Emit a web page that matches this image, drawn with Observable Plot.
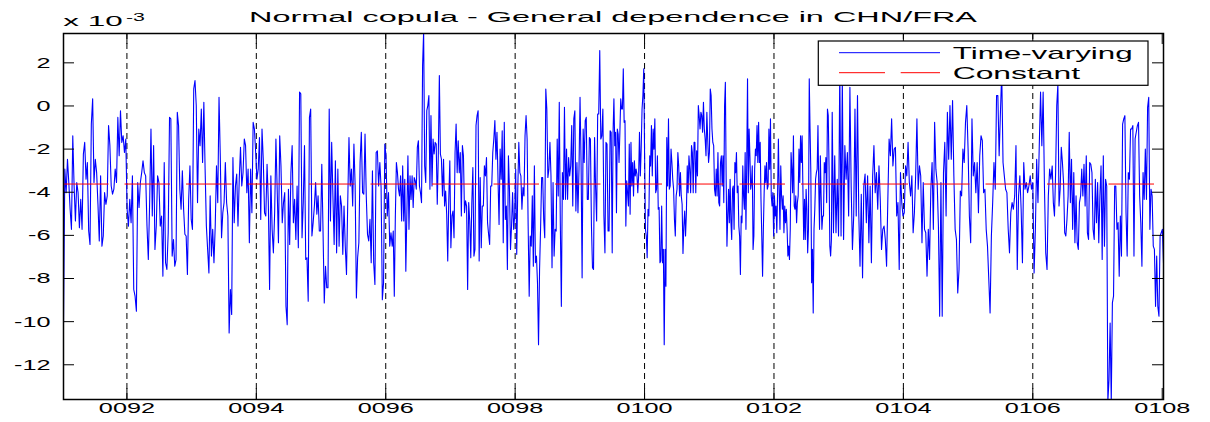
<!DOCTYPE html>
<html><head><meta charset="utf-8">
<script src="https://cdn.jsdelivr.net/npm/d3@7"></script>
<script src="https://cdn.jsdelivr.net/npm/@observablehq/plot@0.6"></script>
<style>body{margin:0;background:#fff;} svg{display:block;}</style>
</head><body><div id="chart"></div>
<script>
const title = "Normal copula - General dependence in CHN/FRA";
const seriesNames = ["Time-varying", "Constant"];
const seriesColors = ["#0000ff", "#ff0000"];
const xTicks = [92, 94, 96, 98, 100, 102, 104, 106, 108];
const xTickLabels = ["0092", "0094", "0096", "0098", "0100", "0102", "0104", "0106", "0108"];
const yTicks = [-12, -10, -8, -6, -4, -2, 0, 2];
const yTickLabels = ["-12", "-10", "-8", "-6", "-4", "-2", "0", "2"];
const yMultiplier = "x 10";
const yExponent = "-3";
const xDomain = [91.02, 108.02];
const yDomain = [-13.61, 3.36];
const constantValue = -3.62;
// time span covered by each block of readings below
const segmentBounds = [91.02, 92.72, 94.42, 96.10, 97.80, 99.50, 101.20, 102.90, 104.60, 106.30, 108.02];

const tv1 = [-10.06,-2.93,-4.02,-2.47,-3.55,-4.79,-5.72,-1.38,-3.71,-5.33,-3.55,-4.02,-5.64,-4.33,-5.72,-2.23,-1.69,-3.40,-2.62,-5.80,-6.42,-0.84,0.33,-3.55,-2.47,-3.09,-4.56,-6.26,-3.24,-6.50,-6.03,-4.02,-4.56,-4.17,-0.91,-1.84,-3.71,-4.09,-3.86,-2.93,-3.55,-0.53,-2.31,-0.22,-1.69,-1.38,-2.16,-1.53,-4.79,-5.57,-4.33,-5.41,-3.24,-8.51,-8.82,-9.52,-3.55,-4.71,-3.55,-3.09,-2.54,-3.09,-3.24,-5.57,-7.12,-4.48,-1.07,-5.10,-1.84,-6.65,-5.57,-3.24,-3.55,-5.57,-5.10,-7.89,-2.62,-7.27,-7.58,-5.88,-0.53,-0.60,-6.96];
const tv2 = [-6.19,-7.43,-7.12,-0.29,-0.91,-3.86,-4.79,-3.01,-4.79,-5.95,-6.03,-7.81,-4.33,-2.78,-5.26,-5.72,0.79,1.18,0.02,-4.48,-1.07,-1.84,-0.14,-2.62,0.17,-2.93,-5.57,-6.65,-7.74,-4.17,-6.96,-5.72,-7.27,-5.57,-2.78,-4.48,0.40,-2.31,-6.11,-4.95,-4.48,-2.62,-4.48,-5.10,-10.53,-8.51,-9.67,-2.39,-5.41,-3.71,-3.16,-5.57,-3.40,-1.92,-3.71,-3.09,-1.53,-1.84,-4.02,-2.93,-6.34,-2.93,-4.95,-0.76,-1.07,-2.16,-3.40,-2.93,-1.46,-5.26,-1.07,-2.47,-4.95,-5.10,-2.70,-4.48,-8.51,-3.24,-5.72,-6.81,-4.95,-1.53,-3.86,-6.34,-1.38,-2.78,-5.41];
const tv3 = [-4.48,-4.02,-9.29,-10.14,-3.86,-6.42,-3.09,-1.84,-5.41,-4.33,-6.19,-3.71,-6.57,0.64,0.56,-6.11,-4.48,-1.84,-7.12,-7.04,-9.05,-0.53,-0.14,-6.03,-5.41,-4.64,-3.55,-5.02,-4.17,-5.80,-5.80,-2.70,-5.80,-9.13,-7.43,-8.43,-8.43,-0.14,-5.33,-1.69,-4.17,-6.42,-2.54,-6.81,-2.93,-6.50,-4.17,-4.64,-6.88,-4.64,-6.50,-7.81,-4.48,-1.46,-3.71,-2.93,-4.64,-1.77,-3.71,-8.90,-7.04,-6.34,-2.62,-1.22,-4.02,-4.09,-1.30,-4.17,-5.95,-6.26,-5.26,-7.27,-3.01,-7.27,-8.28,-2.16,-2.08,-3.71,-2.62,-3.78,-8.98,-8.20,-1.77,-2.31,-5.10,-4.02,-6.50,-5.88];
const tv4 = [-6.50,-5.80,-8.82,-5.10,-2.62,-3.09,-3.86,-4.17,-3.24,-5.33,-2.78,-5.33,-3.40,-7.66,-4.95,-2.31,-5.72,-3.24,-4.33,-3.24,-4.71,-3.32,-3.47,-3.86,-1.92,-1.61,-3.71,-4.02,-4.48,1.88,3.45,-2.78,-3.55,-0.22,0.02,0.48,-3.86,-0.45,-3.71,-1.53,-2.23,-1.69,-1.77,-4.56,-2.31,1.41,-2.23,-2.47,-4.17,-2.47,-4.64,-3.94,-5.02,-7.19,-4.33,-2.54,-6.57,-5.10,-4.87,-6.11,-2.16,-0.84,-3.09,-1.61,-3.09,-2.16,-5.10,-1.84,-2.31,-4.95,-4.40,-4.64,-8.51,-4.48,-5.33,-7.04,-4.48,-2.85,-6.96,-6.65,-0.91,-0.45,-0.22,-7.19,-3.32,-6.57,-4.64,-4.64,-2.78,-3.24,-2.39,-5.41,-5.95,-6.42,-3.71,-3.71,-2.16,-1.53,-0.68,-2.47,-1.22,-3.40,-5.49,-2.00,-3.40];
const tv5 = [-1.15,-6.34,-0.76,-5.26,-4.64,-7.58,-2.31,-3.86,-6.65,-5.57,-4.02,-5.72,-5.10,-2.93,-6.88,-3.86,-1.69,-3.09,-3.24,-4.79,-3.78,-4.17,-1.38,-0.45,-1.53,-5.57,-8.82,-6.03,-6.50,-4.17,-7.43,-2.78,-7.27,-6.96,-8.20,-11.07,-7.58,-5.64,-3.32,-3.32,-5.26,-6.11,0.79,-0.14,-3.32,-2.93,-1.69,-3.24,-7.50,-3.55,-6.96,-5.72,-5.80,-1.53,-4.17,0.17,-5.41,-9.29,-3.09,-4.33,-0.06,-4.33,-2.00,-4.33,-2.39,-3.24,-2.78,-0.91,-4.64,-0.60,-0.22,-4.87,-2.62,-4.95,-2.93,0.40,-2.62,-7.97,-1.07,-2.62,-0.68,-0.53,-4.33,-4.33,-1.46,-1.53,-5.57,-7.50,-7.58,-1.46,-3.78,-5.33,-0.37,-0.37,2.57,-1.53,-1.38,-0.14,-5.10,-6.81,-1.69,-1.77,-5.80,-5.80,-1.15,-1.22];
const tv6 = [-6.81,-1.22,0.33,-1.84,-1.22,-4.95,-1.07,-1.30,-2.62,-1.22,0.33,-0.14,-0.14,1.72,-0.76,-0.68,-5.57,-3.47,-4.02,-4.64,-1.77,-5.02,-1.69,-3.71,-2.62,-4.17,-2.54,-3.24,-2.93,-3.16,-4.02,-3.24,-1.22,-3.24,-2.00,-0.14,0.48,1.72,-2.31,-5.72,-6.03,-7.04,-4.79,-5.10,-2.31,-2.78,-0.91,-3.24,-1.07,-2.00,-0.60,-4.02,-3.86,-2.31,-4.79,-4.71,-7.27,-7.19,-4.64,-7.27,-6.65,-11.07,-6.65,-8.36,-1.46,-3.71,-0.60,-3.86,-3.71,-2.00,-2.62,-3.40,-3.86,-5.26,-6.03,-4.17,-3.86,-2.16,-2.78,-4.17,-3.09,-4.17,-4.56,-6.84,-5.57,-4.87,-6.03,-4.95,-2.78,-4.02,-2.31,-2.93,-4.02,-1.84,-2.16,-4.02,-1.69,-1.69,-4.02,-2.08,-3.24,0.02,-0.45,-1.07,-0.29,-0.45,-1.22,0.17,-1.07,-1.53,-2.31,-0.29,-1.53,-2.62,-2.16,0.79,0.48,-1.07,-1.69,-1.84,-3.86,-4.17,-2.93,-4.17,-2.16,-4.48,-4.64,-2.62,-2.31];
const tv7 = [-3.71,-2.31,-4.48,0.02,1.10,-3.40,-6.50,-5.10,-3.86,-5.41,-3.40,-5.33,-6.19,-3.86,-3.71,-5.72,-2.62,-3.09,-2.16,-4.02,-3.71,-5.57,-6.03,-7.81,-5.10,-5.41,-2.78,-4.17,-4.79,-2.16,-5.72,-2.62,1.26,-4.02,-1.07,-2.31,-3.86,-3.55,-2.78,-6.65,-6.03,-2.93,-2.00,-2.31,-0.91,-2.62,-0.76,-2.62,-1.69,-4.33,-6.03,-7.89,-5.72,-4.02,-2.78,-3.55,-2.62,-3.86,-3.71,-1.07,-2.93,-0.60,-4.17,-4.64,-4.02,-6.03,-4.17,-5.10,-4.64,-5.88,-4.02,-1.53,-3.86,-5.72,-2.78,-4.17,-4.79,-4.17,-5.88,-4.64,-5.41,-4.79,-5.72,-6.96,-6.50,-7.12,-5.72,-2.16,-2.93,-4.02,-1.38,-4.64,-4.79,-4.17,-5.41,-4.48,-4.17,-2.00,-3.55,-1.38,-2.62,-1.38,-3.86,-6.19,-4.33,-6.19,-3.86,-4.79,-6.81,-5.72,1.26,-1.07,-3.09,-8.20,-6.65,-9.60,-5.72,-4.79,-3.40,-3.09,-2.93,-0.91,-3.71,-5.72,-2.31,-4.17,-5.72,-5.10,-5.10,-2.62,-3.09,-2.39,-4.48,-0.14,-0.45,-2.78,-6.50,-6.96,-6.19];
const tv8 = [-0.29,-5.88,-2.31,-5.88,-3.40,-6.03,1.72,-6.03,1.26,-6.19,-1.84,-3.40,-2.16,-5.10,0.87,-3.71,-6.65,-5.10,-0.14,-5.10,0.48,-4.95,-7.43,-4.09,-7.97,-3.71,-3.16,-5.41,-3.24,-6.34,-3.71,-7.27,-3.24,-1.84,-4.02,-3.09,-4.79,-2.78,-4.33,-6.65,-5.72,-5.57,-6.19,-7.43,-4.33,-1.53,-2.31,-0.60,-2.78,-2.00,-1.92,-5.10,-4.48,-7.58,-3.09,-4.48,-5.10,-4.95,-2.78,-3.24,-1.69,-3.55,-4.17,-3.24,-5.88,-4.95,-3.24,-0.60,-3.86,-2.78,-3.24,-6.34,-3.55,-5.72,-5.88,-7.89,-5.72,-7.12,-3.86,-2.62,-5.72,-0.76,-2.93,-3.55,-5.57,-9.75,-3.55];
const tv9 = [-9.75,-3.09,-1.69,-5.10,-0.29,-2.47,0.02,-2.47,0.25,-3.24,-5.72,-6.19,-8.67,-7.58,-3.94,-4.17,-2.00,-2.62,-0.76,0.02,-2.00,-5.10,-6.34,-0.60,-3.24,-2.62,-4.02,-2.62,-4.95,-2.31,-1.38,-1.61,-4.02,-3.86,-5.72,-6.50,-8.05,-9.60,-6.03,-4.48,-2.62,-3.86,0.48,0.48,-2.31,-0.29,1.57,-2.62,-3.24,-3.86,-4.02,-5.72,-6.81,-4.95,-4.48,-4.79,-4.17,-1.84,-7.58,-4.17,-3.24,-4.79,-7.27,-2.62,-3.86,-3.55,-4.02,-3.71,-3.24,-3.86,-3.55,-7.74,-5.72,-2.47,-4.48,-1.84,0.64,-1.84,0.64,-3.71,-6.81,-7.58,-4.17,-2.93,-3.40];
const tv10 = [-2.78,-4.48,-5.10,-3.09,0.02,1.00,-4.64,-3.86,-1.92,-2.62,-3.55,-5.88,-6.03,-5.26,-4.17,-1.22,-4.48,-2.47,-5.72,-3.09,-6.34,-4.17,-6.34,-6.65,-4.48,-4.17,-2.93,-4.17,-2.70,-4.64,-2.31,-5.88,-6.19,-2.62,-2.70,-3.09,-5.72,-6.19,-3.40,-5.41,-3.55,-6.34,-4.17,-2.78,-7.12,-2.31,-6.50,-3.40,-3.71,-13.70,-12.70,-10.06,-13.70,-9.13,-8.82,-3.71,-3.71,-5.72,-5.41,-7.89,-5.10,-6.96,-0.84,-0.60,-0.45,-4.95,-6.96,-3.09,-3.40,-1.07,-1.07,-0.91,-6.96,-1.53,-1.22,-0.91,-0.76,-4.17,-5.41,-7.43,-3.09,-4.33,-2.00,-4.33,-0.06,0.40,-5.72,-3.86,-4.17,-6.50,-6.65,-9.29,-6.96,-9.29,-9.75,-6.03,-5.88,-5.72,-7.27];

const segments = [tv1, tv2, tv3, tv4, tv5, tv6, tv7, tv8, tv9, tv10];
const series = [];
segments.forEach((seg, i) => {
  const a = segmentBounds[i], b = segmentBounds[i + 1];
  const n = i === segments.length - 1 ? seg.length - 1 : seg.length;
  seg.forEach((v, j) => series.push({t: a + (b - a) * j / n, v}));
});

const W = 1210, H = 422, mL = 63, mR = 47, mT = 33, mB = 23;
const pw = W - mL - mR, ph = H - mT - mB;
const FONT = "'Liberation Sans', Arial, Helvetica, sans-serif";

const chart = Plot.plot({
  width: W, height: H,
  marginLeft: mL, marginRight: mR, marginTop: mT, marginBottom: mB,
  style: {fontFamily: FONT, fontSize: "15.4px", color: "#000", background: "#fff", overflow: "visible"},
  x: {type: "linear", domain: xDomain},
  y: {type: "linear", domain: yDomain},
  marks: [
    Plot.ruleX(xTicks.slice(0, -1), {x: d => d, stroke: "#000", strokeDasharray: "6,4", strokeWidth: 1}),
    Plot.line(series, {x: "t", y: "v", stroke: seriesColors[0], strokeWidth: 1.1, clip: true}),
    Plot.ruleY([constantValue], {y: d => d, stroke: seriesColors[1], strokeWidth: 1, strokeDasharray: "45.5,16"}),
    Plot.tickY(yTicks, {y: d => d, insetRight: pw - 11, stroke: "#000"}),
    Plot.tickY(yTicks, {y: d => d, insetLeft: pw - 11, stroke: "#000"}),
    Plot.tickX(xTicks, {x: d => d, insetTop: ph - 11, stroke: "#000"}),
    Plot.tickX(xTicks, {x: d => d, insetBottom: ph - 11, stroke: "#000"}),
    Plot.axisX(xTicks, {anchor: "bottom", tickSize: 0, tickPadding: 3, label: null,
      tickFormat: d => xTickLabels[xTicks.indexOf(d)]}),
    Plot.axisY(yTicks, {anchor: "left", tickSize: 0, tickPadding: 13, label: null,
      tickFormat: d => yTickLabels[yTicks.indexOf(d)]}),
    Plot.frame({stroke: "#000", strokeWidth: 1.5})
  ]
});
document.getElementById("chart").append(chart);

function stretchTo(el, len) {
  el.setAttribute("textLength", len);
  el.setAttribute("lengthAdjust", "spacingAndGlyphs");
}
function stretchBy(el, k) {
  stretchTo(el, el.getComputedTextLength() * k);
}
const svg = d3.select(chart);
svg.selectAll("g[aria-label='x-axis tick label'] text, g[aria-label='y-axis tick label'] text")
  .each(function () { stretchBy(this, 1.64); });

const ann = svg.append("g").attr("font-family", FONT).attr("fill", "#000").attr("text-anchor", "start");
ann.append("text").attr("x", mL + pw / 2).attr("y", 22).attr("text-anchor", "middle")
  .attr("font-size", 14).text(title).each(function () { stretchTo(this, 728); });
ann.append("text").attr("x", 63.3).attr("y", 26).attr("font-size", 14).attr("text-anchor", "start")
  .text(yMultiplier).each(function () { stretchTo(this, 59.4); });
ann.append("text").attr("x", 126).attr("y", 20.5).attr("font-size", 11).attr("text-anchor", "start")
  .text(yExponent).each(function () { stretchTo(this, 19); });

// legend
const lg = svg.append("g").attr("font-family", FONT).attr("text-anchor", "start");
lg.append("rect").attr("x", 818.3).attr("y", 41).attr("width", 329.7).attr("height", 44.3)
  .attr("fill", "#fff").attr("stroke", "#000").attr("stroke-width", 1.2);
const legendRows = [{y: 52.7, base: 59.3, len: 180, dash: null}, {y: 72.7, base: 79.3, len: 127.4, dash: "46,15.7"}];
seriesNames.forEach((name, i) => {
  const r = legendRows[i];
  lg.append("line").attr("x1", 839).attr("x2", 940).attr("y1", r.y).attr("y2", r.y)
    .attr("stroke", seriesColors[i]).attr("stroke-width", 1).attr("stroke-dasharray", r.dash);
  lg.append("text").attr("x", 952.7).attr("y", r.base).attr("font-size", 17).attr("fill", "#000")
    .attr("text-anchor", "start")
    .text(name).each(function () { stretchTo(this, r.len); });
});
</script>
</body></html>
